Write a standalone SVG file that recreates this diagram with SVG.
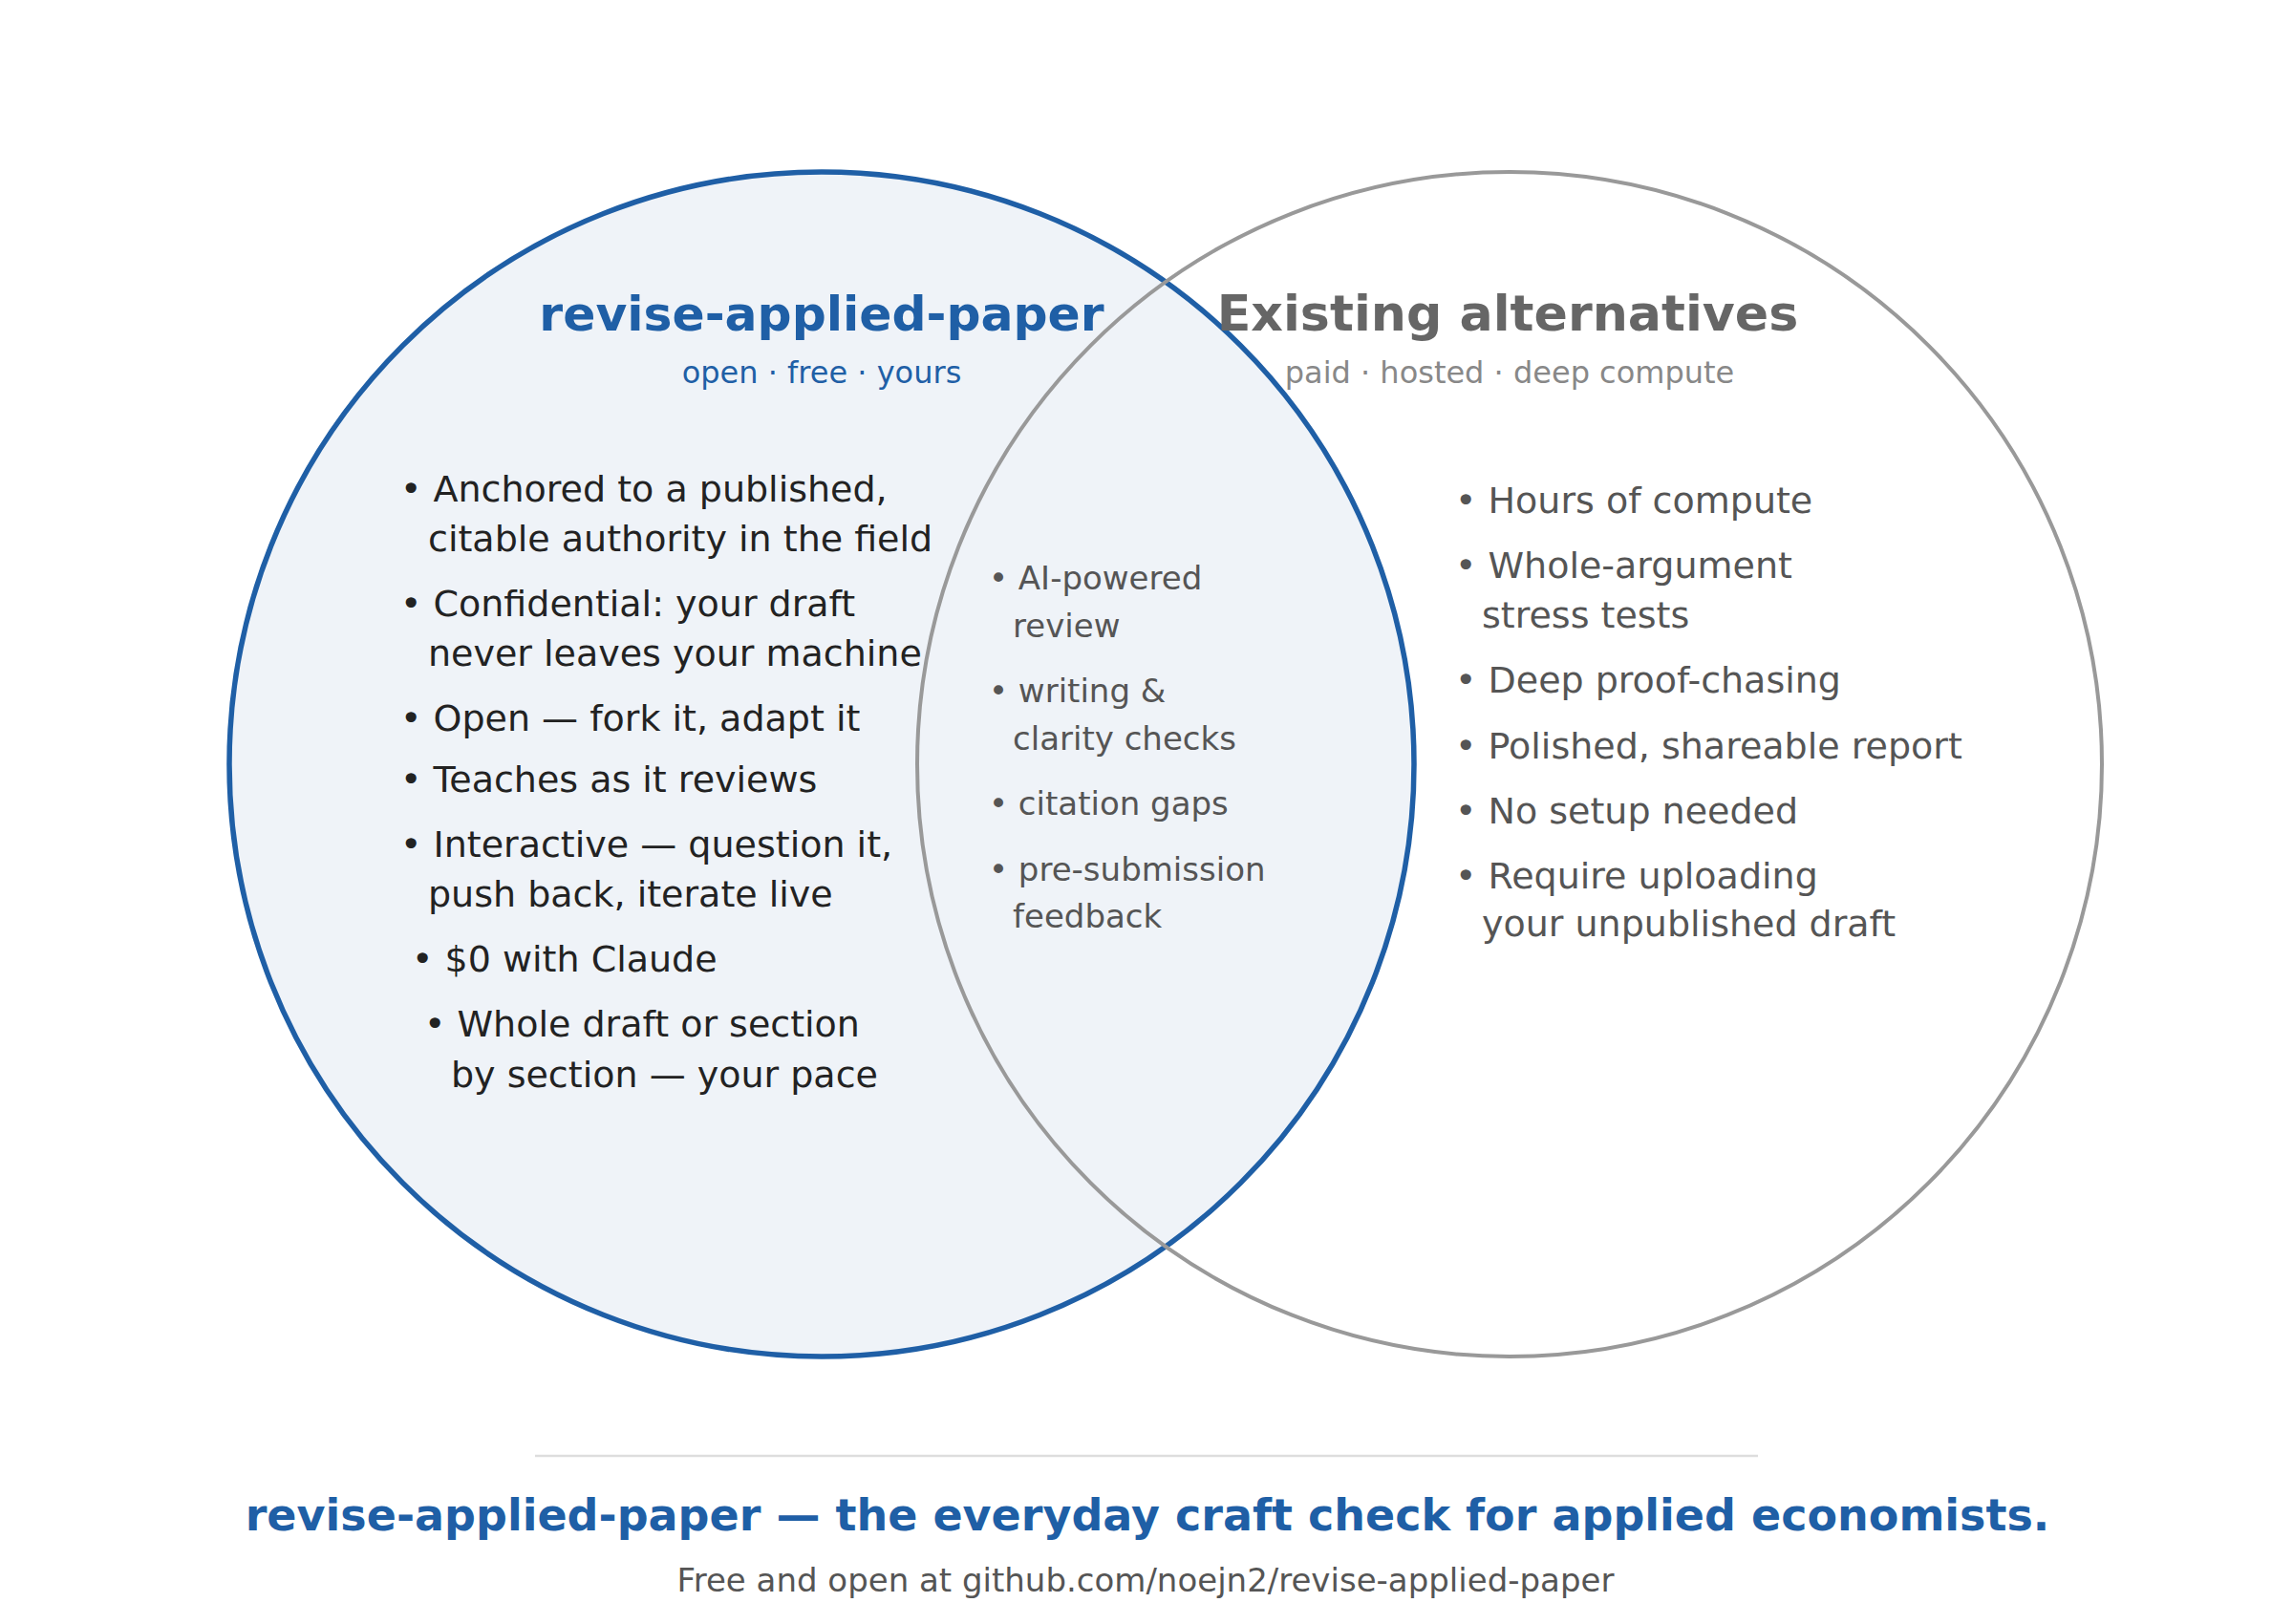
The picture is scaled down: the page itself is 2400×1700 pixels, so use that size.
<svg xmlns="http://www.w3.org/2000/svg" width="2400" height="1700" viewBox="0 0 2400 1700">
<style>
text { font-family: "DejaVu Sans", "Liberation Sans", sans-serif; }
.title { font-weight: bold; font-size: 50.4px; text-anchor: middle; }
.sub { font-size: 32px; text-anchor: middle; }
.body { font-size: 38px; }
.mid { font-size: 34px; fill: #555555; }
.left { fill: #222222; }
.right { fill: #555555; }
</style>
<rect x="0" y="0" width="2400" height="1700" fill="#ffffff"/>
<g id="left-set">
  <circle cx="860" cy="800" r="620" fill="#eff3f8" stroke="#1f5fa6" stroke-width="5.5"/>
</g>
<g id="right-set">
  <circle cx="1580" cy="800" r="620" fill="none" stroke="#999999" stroke-width="4"/>
</g>
<g id="left-labels">
  <text class="title" x="860" y="346" fill="#1f5fa6">revise-applied-paper</text>
  <text class="sub" x="860" y="401" fill="#1f5fa6">open · free · yours</text>
  <g class="body left">
    <text x="419" y="525">• Anchored to a published,</text>
    <text x="448" y="577">citable authority in the field</text>
    <text x="419" y="645">• Confidential: your draft</text>
    <text x="448" y="697">never leaves your machine</text>
    <text x="419" y="765">• Open — fork it, adapt it</text>
    <text x="419" y="829">• Teaches as it reviews</text>
    <text x="419" y="897">• Interactive — question it,</text>
    <text x="448" y="949">push back, iterate live</text>
    <text x="431" y="1017">• $0 with Claude</text>
    <text x="444" y="1085">• Whole draft or section</text>
    <text x="472" y="1138">by section — your pace</text>
  </g>
</g>
<g id="overlap-labels" class="mid">
  <text x="1035" y="617">• AI-powered</text>
  <text x="1060" y="667">review</text>
  <text x="1035" y="735">• writing &amp;</text>
  <text x="1060" y="785">clarity checks</text>
  <text x="1035" y="853">• citation gaps</text>
  <text x="1035" y="922">• pre-submission</text>
  <text x="1060" y="971">feedback</text>
</g>
<g id="right-labels">
  <text class="title" x="1578" y="346" fill="#666666" style="font-size:52.2px">Existing alternatives</text>
  <text class="sub" x="1580" y="401" fill="#888888">paid · hosted · deep compute</text>
  <g class="body right">
    <text x="1523" y="537">• Hours of compute</text>
    <text x="1523" y="605">• Whole-argument</text>
    <text x="1551" y="657">stress tests</text>
    <text x="1523" y="725">• Deep proof-chasing</text>
    <text x="1523" y="794">• Polished, shareable report</text>
    <text x="1523" y="862">• No setup needed</text>
    <text x="1523" y="930">• Require uploading</text>
    <text x="1551" y="980">your unpublished draft</text>
  </g>
</g>
<g id="connectors"></g>
<g id="footer">
  <line x1="560" y1="1524" x2="1840" y2="1524" stroke="#dddddd" stroke-width="2.5"/>
  <text x="1201" y="1602" text-anchor="middle" font-weight="bold" font-size="46" fill="#1f5fa6">revise-applied-paper — the everyday craft check for applied economists.</text>
  <text x="1199" y="1666" text-anchor="middle" font-size="34" fill="#555555">Free and open at github.com/noejn2/revise-applied-paper</text>
</g>
</svg>
